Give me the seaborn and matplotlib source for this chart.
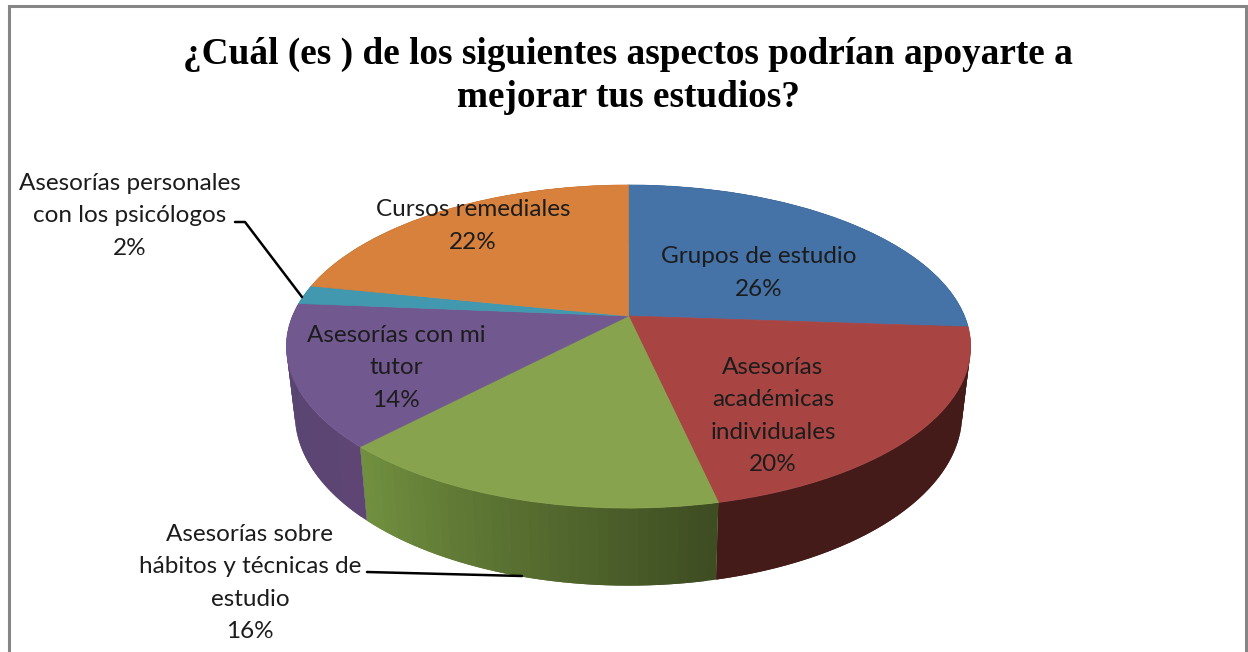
"""
Pie chart with a drawn 3D look, as Excel makes them.
"""

import numpy as np
import matplotlib as mpl
mpl.use("Agg")
import matplotlib.pyplot as plt
import matplotlib.colors as mcolors
import matplotlib.transforms as mtransforms
import seaborn as sns

sns.set_theme(style='white')
plt.rcParams['font.family'] = ['Lato', 'DejaVu Sans']

# Data
title_text = '¿Cuál (es ) de los siguientes aspectos podrían apoyarte a\nmejorar tus estudios?'
categories = ['Grupos de estudio',
              'Asesorías\nacadémicas\nindividuales',
              'Asesorías sobre\nhábitos y técnicas de\nestudio',
              'Asesorías con mi\ntutor',
              'Asesorías personales\ncon los psicólogos',
              'Cursos remediales']
shares = [26.1, 20.4, 15.6, 14.2, 1.9, 21.8]
percent_labels = ['26%', '20%', '16%', '14%', '2%', '22%']

# Styles
top_colors = ['#4572a7', '#a84543', '#87a34d', '#71588f', '#4198af', '#d7813c']
wall_start = ['#2c466a', '#441b18', '#3e4d22', '#5e4574', '#2a6070', '#8a5426']
wall_end = ['#2c466a', '#441b18', '#71903f', '#564570', '#2a6070', '#8a5426']
label_pos = [(759, 273), (773, 416), (250, 583), (396, 368), (130, 216), (473, 226)]
frame_color = '#868686'
text_color = '#1c1c1c'

# Geometry of the projected disc, in pixels
center_x, center_y = 628.5, 316
half_w, half_h, tilt = 336, 155.8, 0.189
low_center_y, low_scale_x, low_scale_y = 382, 0.975, 1.06


class PieView(mtransforms.Transform):
    """Perspective view of the unit circle, output in pixels."""
    input_dims = 2
    output_dims = 2
    is_separable = False
    has_inverse = False

    def transform_non_affine(self, values):
        u, v = np.asarray(values).T
        w = 1 + tilt * v
        return np.column_stack([center_x + half_w * u / w, center_y - half_h * v / w])


def rim_points(angles, low=False):
    u, v = np.sin(angles), np.cos(angles)
    w = 1 + tilt * v
    if low:
        return (center_x + low_scale_x * half_w * u / w,
                low_center_y - low_scale_y * half_h * v / w)
    return center_x + half_w * u / w, center_y - half_h * v / w


fig = plt.figure(figsize=(12.48, 6.52), dpi=100, facecolor='white')
ax = fig.add_axes([0, 0, 1, 1])

# Side walls first, the top of the pie covers what is behind it.
# Each strip runs under the next one so no seams show.
edges = np.radians(np.cumsum([0] + shares) * 3.6)
for i in range(len(shares)):
    steps = np.linspace(edges[i], edges[i + 1], 41)
    start_rgb = np.array(mcolors.to_rgb(wall_start[i]))
    end_rgb = np.array(mcolors.to_rgb(wall_end[i]))
    for j in range(40):
        pair = steps[j:j + 3]
        x_top, y_top = rim_points(pair)
        x_low, y_low = rim_points(pair, low=True)
        color = start_rgb + (end_rgb - start_rgb) * j / 39
        ax.fill(np.r_[x_top, x_low[::-1]], np.r_[y_top, y_low[::-1]],
                facecolor=color, edgecolor='none', lw=0, zorder=1)

# Top of the pie
wedges, _ = ax.pie(shares, colors=sns.color_palette(top_colors), startangle=90,
                   counterclock=False)
view = PieView()
for wedge in wedges:
    wedge.set_transform(view + ax.transData)
    wedge.set_edgecolor(wedge.get_facecolor())
    wedge.set_linewidth(0.5)
    wedge.set_zorder(2)

ax.set_aspect('auto')
ax.set_xlim(0, 1248)
ax.set_ylim(652, 0)
ax.axis('off')

# Chart frame, the bottom side is cut off in the picture
ax.plot([9, 9, 1246, 1246], [655, 6, 6, 655], color=frame_color, lw=2.2, zorder=1,
        solid_joinstyle='miter')

# Leader lines
ax.plot([235, 245, 302], [222, 222, 297], color='black', lw=1.8, zorder=3)
ax.plot([367, 522], [572, 576], color='black', lw=1.8, zorder=3)

# Labels
for name, pct, pos in zip(categories, percent_labels, label_pos):
    ax.text(pos[0], pos[1], f'{name}\n{pct}', ha='center', va='center', fontsize=17.5,
            linespacing=1.67, color=text_color, zorder=4)

ax.text(628, 76, title_text, ha='center', va='center', fontsize=26.8, fontweight='bold',
        family=['Liberation Serif', 'DejaVu Serif'], linespacing=1.3, color='black', zorder=4)

fig.savefig('out.png', dpi=100, facecolor='white')
